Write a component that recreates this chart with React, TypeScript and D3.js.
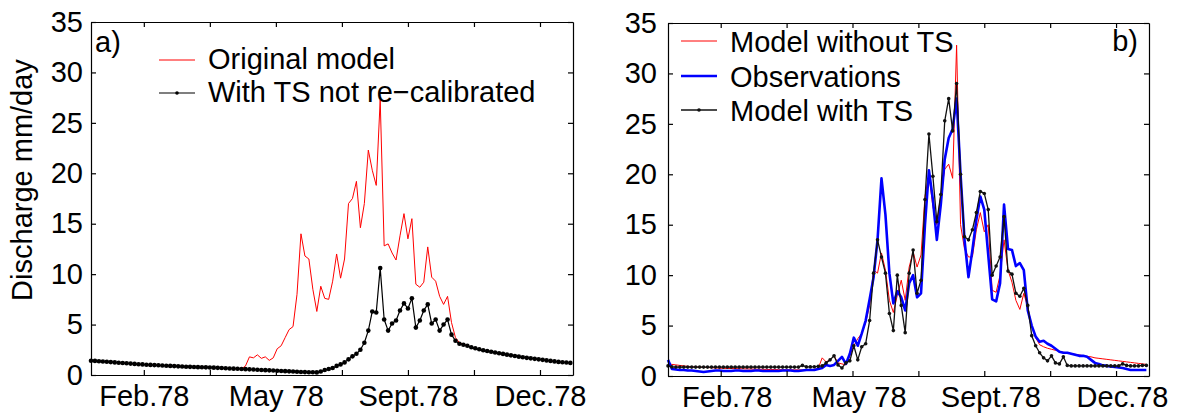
import React, { useEffect, useRef } from 'react';
import * as d3 from 'd3';

// day-of-year sample grid (every 3 days), Jan 1978 .. Dec 1978
const days = d3.range(0, 366, 3);

const xTicks = [40, 90, 140, 190, 240, 290, 340];
const xTickLabels = ['Feb.78', '', 'May 78', '', 'Sept.78', '', 'Dec.78'];
const yTicks = [0, 5, 10, 15, 20, 25, 30, 35];

// panel a)
const originalModel = [
  1.42, 1.40, 1.37, 1.34, 1.31, 1.28, 1.25, 1.22, 1.19, 1.16,
  1.13, 1.10, 1.07, 1.05, 1.02, 1.00, 0.98, 0.96, 0.94, 0.92,
  0.90, 0.88, 0.86, 0.84, 0.82, 0.81, 0.80, 0.78, 0.77, 0.76,
  0.75, 0.73, 0.71, 0.69, 0.67, 0.65, 0.63, 0.62, 0.60, 0.90,
  1.80, 1.70, 2.00, 1.65, 1.80, 1.45, 1.70, 2.60, 2.90, 3.70,
  4.50, 4.80, 8.00, 14.0, 11.8, 11.5, 8.50, 6.30, 8.80, 7.60,
  7.50, 9.30, 12.0, 9.60, 11.5, 17.0, 17.5, 19.2, 14.6, 17.0,
  22.3, 20.3, 18.8, 27.3, 12.8, 13.0, 12.1, 11.4, 13.8, 16.0,
  13.5, 15.5, 9.00, 8.70, 9.20, 12.7, 9.70, 9.30, 7.80, 7.00,
  7.80, 5.20, 3.70, 3.20, 3.05, 2.90, 2.75, 2.65, 2.55, 2.45,
  2.38, 2.30, 2.23, 2.16, 2.09, 2.02, 1.95, 1.88, 1.82, 1.76,
  1.70, 1.65, 1.60, 1.55, 1.50, 1.45, 1.40, 1.35, 1.30, 1.27,
  1.24, 1.20,
];

const withTsNotRecalibrated = [
  1.42, 1.40, 1.37, 1.34, 1.31, 1.28, 1.25, 1.22, 1.19, 1.16,
  1.13, 1.10, 1.07, 1.05, 1.02, 1.00, 0.98, 0.96, 0.94, 0.92,
  0.90, 0.88, 0.86, 0.84, 0.82, 0.81, 0.80, 0.78, 0.77, 0.76,
  0.75, 0.73, 0.71, 0.69, 0.67, 0.65, 0.63, 0.62, 0.60, 0.58,
  0.56, 0.54, 0.52, 0.50, 0.48, 0.46, 0.44, 0.42, 0.40, 0.38,
  0.36, 0.34, 0.32, 0.30, 0.29, 0.28, 0.27, 0.26, 0.35, 0.50,
  0.60, 0.70, 0.90, 1.05, 1.25, 1.55, 1.85, 2.10, 2.50, 3.20,
  4.40, 6.30, 6.20, 10.6, 5.50, 4.40, 5.10, 5.40, 6.40, 7.10,
  6.60, 7.60, 4.70, 5.40, 6.40, 7.00, 5.10, 5.50, 4.40, 5.00,
  5.50, 4.00, 3.40, 3.10, 3.00, 2.90, 2.75, 2.65, 2.55, 2.45,
  2.38, 2.30, 2.23, 2.16, 2.09, 2.02, 1.95, 1.88, 1.82, 1.76,
  1.70, 1.65, 1.60, 1.55, 1.50, 1.45, 1.40, 1.35, 1.30, 1.27,
  1.24, 1.20,
];

// panel b)
const modelWithoutTs = [
  1.20, 1.15, 1.10, 1.05, 1.00, 0.95, 0.92, 0.90, 0.88, 0.86,
  0.84, 0.82, 0.80, 0.78, 0.76, 0.75, 0.74, 0.73, 0.72, 0.71,
  0.70, 0.69, 0.68, 0.67, 0.66, 0.65, 0.64, 0.64, 0.63, 0.63,
  0.62, 0.62, 0.61, 0.61, 0.60, 0.60, 0.62, 0.66, 0.75, 1.80,
  1.40, 1.60, 2.00, 1.30, 1.20, 1.10, 2.00, 3.00, 3.70, 4.20,
  5.30, 7.00, 10.5, 10.2, 12.2, 10.5, 7.50, 6.30, 8.00, 9.50,
  7.50, 10.8, 12.3, 10.8, 12.0, 17.8, 20.0, 16.8, 15.0, 18.0,
  20.5, 21.0, 19.6, 32.8, 15.0, 12.6, 11.8, 11.8, 14.5, 16.2,
  14.3, 15.0, 8.50, 8.30, 10.0, 13.5, 10.5, 9.30, 7.50, 6.60,
  8.20, 6.80, 5.00, 3.80, 3.10, 2.90, 2.75, 2.65, 2.55, 2.45,
  2.35, 2.30, 2.20, 2.15, 2.10, 2.00, 1.95, 1.90, 1.80, 1.75,
  1.70, 1.65, 1.60, 1.55, 1.50, 1.45, 1.40, 1.35, 1.30, 1.25,
  1.20, 1.15,
];

const observations = [
  1.60, 0.70, 0.65, 0.60, 0.60, 0.55, 0.55, 0.50, 0.45, 0.40,
  0.45, 0.50, 0.55, 0.55, 0.50, 0.50, 0.50, 0.55, 0.55, 0.50,
  0.50, 0.50, 0.55, 0.55, 0.50, 0.50, 0.50, 0.50, 0.50, 0.55,
  0.55, 0.55, 0.50, 0.50, 0.55, 0.60, 0.60, 0.60, 0.70, 0.80,
  1.10, 1.00, 1.10, 1.50, 1.90, 1.20, 2.20, 3.80, 3.00, 4.20,
  5.50, 7.60, 9.80, 13.5, 19.6, 16.0, 10.2, 7.20, 8.40, 7.80,
  6.50, 9.20, 10.0, 7.80, 8.20, 15.0, 20.4, 17.5, 13.5, 17.0,
  21.5, 23.6, 24.5, 27.5, 20.0, 13.5, 9.80, 12.5, 15.5, 17.8,
  16.5, 12.0, 7.60, 7.40, 9.20, 17.0, 12.6, 12.5, 10.9, 11.2,
  10.5, 6.50, 5.00, 3.90, 3.40, 3.50, 3.20, 3.00, 2.70, 2.40,
  2.30, 2.30, 2.20, 2.10, 2.00, 2.00, 1.90, 1.60, 1.30, 1.20,
  1.05, 1.00, 0.95, 0.90, 0.85, 0.80, 0.70, 0.60, 0.60, 0.60,
  0.60, 0.60,
];

const modelWithTs = [
  1.00, 0.90, 0.88, 0.88, 0.88, 0.88, 0.88, 0.88, 0.88, 0.88,
  0.88, 0.88, 0.88, 0.88, 0.88, 0.88, 0.88, 0.88, 0.88, 0.88,
  0.88, 0.88, 0.88, 0.88, 0.88, 0.88, 0.88, 0.88, 0.88, 0.88,
  0.88, 0.88, 0.88, 0.88, 1.05, 0.90, 0.90, 0.92, 0.95, 1.00,
  1.30, 1.60, 2.00, 1.10, 0.80, 1.30, 1.50, 3.00, 1.60, 2.90,
  3.20, 5.50, 10.2, 13.5, 11.8, 10.2, 6.20, 4.50, 10.0, 7.00,
  4.30, 10.2, 12.5, 8.20, 9.50, 17.5, 24.0, 19.8, 15.3, 18.0,
  25.3, 27.5, 24.3, 29.0, 20.0, 13.8, 13.5, 14.5, 16.2, 18.3,
  18.1, 16.5, 10.0, 10.9, 11.8, 15.8, 10.4, 10.1, 8.20, 7.90,
  8.70, 7.00, 4.00, 3.00, 2.30, 1.80, 1.50, 2.00, 1.30, 1.20,
  1.90, 1.05, 1.00, 1.00, 1.00, 1.00, 1.00, 1.00, 1.00, 1.00,
  1.00, 1.00, 1.00, 1.00, 1.00, 1.20, 1.05, 1.00, 1.00, 1.00,
  1.05, 1.05,
];

const FONT = '"Liberation Sans", Arial, Helvetica, sans-serif';
const FONT_SIZE = '29px';

interface Series {
  name: string;
  values: number[];
  color: string;
  width: number;
  marker?: number;
}

interface Panel {
  left: number;
  right: number;
  top: number;
  bottom: number;
  yPad: number;
  xShift: number;
  series: Series[];
  legendX: number;
  legendY: number[];
  legendDy: number;
  tag: string;
  tagX: number;
  tagY: number;
  tagAnchor: string;
}

const panels: Panel[] = [
  {
    left: 91, right: 573, top: 22, bottom: 375, yPad: 8, xShift: 0,
    series: [
      { name: 'Original model', values: originalModel, color: '#ff0000', width: 1 },
      { name: 'With TS not re\u2212calibrated', values: withTsNotRecalibrated, color: '#000', width: 1.2, marker: 2.3 },
    ],
    legendX: 159, legendY: [60, 93], legendDy: 9,
    tag: 'a)', tagX: 95, tagY: 52, tagAnchor: 'start',
  },
  {
    left: 668, right: 1149, top: 23, bottom: 376, yPad: 11, xShift: 6,
    series: [
      { name: 'Model without TS', values: modelWithoutTs, color: '#ff0000', width: 1 },
      { name: 'Observations', values: observations, color: '#0000ff', width: 2.6 },
      { name: 'Model with TS', values: modelWithTs, color: '#111', width: 1.3, marker: 1.8 },
    ],
    legendX: 681, legendY: [41, 76, 110], legendDy: 11,
    tag: 'b)', tagX: 1138, tagY: 51, tagAnchor: 'end',
  },
];

const App: React.FC = () => {
  const svgRef = useRef<SVGSVGElement>(null);

  useEffect(() => {
    if (!svgRef.current) return;
    const svg = d3.select(svgRef.current);
    svg.selectAll('*').remove();

    panels.forEach((p) => {
      const x = d3.scaleLinear().domain([0, 365]).range([p.left, p.right]);
      const y = d3.scaleLinear().domain([0, 35]).range([p.bottom, p.top]);
      const g = svg.append('g');

      // series
      p.series.forEach((s) => {
        const line = d3.line<number>()
          .x((_, i) => x(days[i]))
          .y((d) => y(d));
        g.append('path')
          .datum(s.values)
          .attr('d', line)
          .style('fill', 'none')
          .style('stroke', s.color)
          .style('stroke-width', s.width)
          .style('stroke-linejoin', 'round');
        if (s.marker) {
          g.selectAll(null)
            .data(s.values)
            .enter()
            .append('circle')
            .attr('cx', (_, i) => x(days[i]))
            .attr('cy', (d) => y(d))
            .attr('r', s.marker)
            .style('fill', s.color);
        }
      });

      // axes (box with inward ticks)
      const bottomAxis = d3.axisBottom(x)
        .tickValues(xTicks)
        .tickFormat((_, i) => xTickLabels[i])
        .tickSizeInner(-5)
        .tickSizeOuter(0)
        .tickPadding(10);
      const topAxis = d3.axisTop(x).tickValues(xTicks).tickFormat(() => '').tickSizeInner(-5).tickSizeOuter(0);
      const leftAxis = d3.axisLeft(y)
        .tickValues(yTicks)
        .tickFormat(d3.format('d'))
        .tickSizeInner(-5)
        .tickSizeOuter(0)
        .tickPadding(p.yPad);
      const rightAxis = d3.axisRight(y).tickValues(yTicks).tickFormat(() => '').tickSizeInner(-5).tickSizeOuter(0);

      const axes = [
        g.append('g').attr('transform', `translate(0,${p.bottom})`).call(bottomAxis),
        g.append('g').attr('transform', `translate(0,${p.top})`).call(topAxis),
        g.append('g').attr('transform', `translate(${p.left},0)`).call(leftAxis),
        g.append('g').attr('transform', `translate(${p.right},0)`).call(rightAxis),
      ];
      axes.forEach((a) => {
        a.selectAll('path, line').style('stroke', '#000').style('stroke-width', 1.2);
        a.selectAll('text')
          .style('font-family', FONT)
          .style('font-size', FONT_SIZE)
          .style('fill', '#000');
      });
      axes[0].selectAll('text').attr('dx', p.xShift);

      // legend
      p.series.forEach((s, i) => {
        const ly = p.legendY[i];
        g.append('line')
          .attr('x1', p.legendX)
          .attr('x2', p.legendX + 36)
          .attr('y1', ly)
          .attr('y2', ly)
          .style('stroke', s.color)
          .style('stroke-width', s.width);
        if (s.marker) {
          g.append('circle')
            .attr('cx', p.legendX + 18)
            .attr('cy', ly)
            .attr('r', 1.8)
            .style('fill', s.color);
        }
        g.append('text')
          .attr('x', p.legendX + 49)
          .attr('y', ly + p.legendDy)
          .text(s.name)
          .style('font-family', FONT)
          .style('font-size', FONT_SIZE)
          .style('fill', '#000');
      });

      g.append('text')
        .attr('x', p.tagX)
        .attr('y', p.tagY)
        .attr('text-anchor', p.tagAnchor)
        .text(p.tag)
        .style('font-family', FONT)
        .style('font-size', FONT_SIZE);
    });

    // y-axis title
    svg.append('text')
      .attr('transform', 'translate(32,180) rotate(-90)')
      .attr('text-anchor', 'middle')
      .text('Discharge mm/day')
      .style('font-family', FONT)
      .style('font-size', FONT_SIZE);
  }, []);

  return (
    <svg
      ref={svgRef}
      width={1185}
      height={414}
      style={{ position: 'absolute', left: 0, top: 0, background: '#fff' }}
    />
  );
};

export default App;
